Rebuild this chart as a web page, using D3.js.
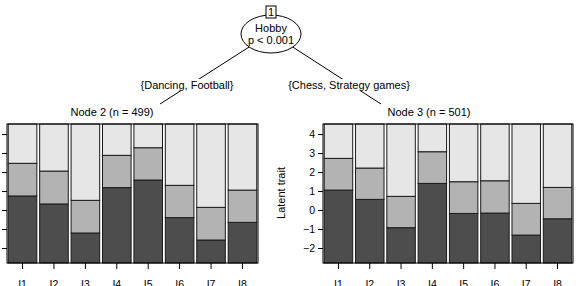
<!DOCTYPE html>
<html>
<head>
<meta charset="utf-8">
<script src="https://cdn.jsdelivr.net/npm/d3@7"></script>
<style>
  body { margin: 0; background: #fff; }
  svg { font-family: "Liberation Sans", Arial, sans-serif; }
</style>
</head>
<body>
<script>
// data
var items = ["I1", "I2", "I3", "I4", "I5", "I6", "I7", "I8"];
var yTicks = [-2, -1, 0, 1, 2, 3, 4];
// upper bound of the dark (lowest) category and of the middle category, per item
var node2Low = [0.74, 0.32, -1.21, 1.18, 1.58, -0.40, -1.58, -0.65];
var node2Mid = [2.46, 2.05, 0.51, 2.88, 3.28, 1.30, 0.14, 1.05];
var node3Low = [1.05, 0.56, -0.93, 1.40, -0.18, -0.16, -1.32, -0.46];
var node3Mid = [2.72, 2.21, 0.72, 3.07, 1.49, 1.54, 0.35, 1.19];
var nodes = [
    { id: 2, n: 499, low: node2Low, mid: node2Mid },
    { id: 3, n: 501, low: node3Low, mid: node3Mid },
];
var edgeLabels = ["{Dancing, Football}", "{Chess, Strategy games}"];

var W = 579, H = 286;
var svg = d3.select("body").append("svg").attr("width", W).attr("height", H);

var yMin = -2.79, yMax = 4.53;
var y = d3.scaleLinear().domain([yMin, yMax]).range([263, 124]);
var panels = [[7, 258], [323, 573]];
var labelX = [112, 429];
var colors = ["#4d4d4d", "#b3b3b3", "#e6e6e6"];

// tree edges
var root = [271, 33];
var kids = [[160, 104], [381, 104]];
svg.selectAll("line.edge")
    .data(kids)
    .join("line")
    .attr("x1", root[0])
    .attr("y1", root[1])
    .attr("x2", (d) => d[0])
    .attr("y2", (d) => d[1])
    .attr("stroke", "#000")
    .attr("stroke-width", 1);

// edge labels with white background
var elx = [187, 349];
edgeLabels.forEach(function (t, i) {
    var txt = svg.append("text")
        .attr("x", elx[i])
        .attr("y", 89)
        .attr("text-anchor", "middle")
        .attr("font-size", 11)
        .text(t);
    var bb = txt.node().getBBox();
    svg.insert("rect", "text")
        .attr("x", bb.x - 2)
        .attr("y", bb.y)
        .attr("width", bb.width + 4)
        .attr("height", bb.height)
        .attr("fill", "#fff");
});

// inner node
svg.append("ellipse")
    .attr("cx", root[0])
    .attr("cy", 34)
    .attr("rx", 30)
    .attr("ry", 19)
    .attr("fill", "#fff")
    .attr("stroke", "#000");
svg.append("rect")
    .attr("x", 266)
    .attr("y", 6)
    .attr("width", 10)
    .attr("height", 12)
    .attr("fill", "#fff")
    .attr("stroke", "#000");
svg.append("text").attr("x", 271).attr("y", 16).attr("text-anchor", "middle")
    .attr("font-size", 11).text("1");
svg.append("text").attr("x", 271).attr("y", 32).attr("text-anchor", "middle")
    .attr("font-size", 11).text("Hobby");
svg.append("text").attr("x", 271).attr("y", 44).attr("text-anchor", "middle")
    .attr("font-size", 11).text("p < 0.001");

// terminal panels
nodes.forEach(function (nd, k) {
    var x0 = panels[k][0], x1 = panels[k][1];
    var x = d3.scaleBand().domain(items).range([x0, x1])
        .paddingInner(0.09).paddingOuter(0.04);
    var g = svg.append("g");

    g.append("text")
        .attr("x", labelX[k])
        .attr("y", 116)
        .attr("text-anchor", "middle")
        .attr("font-size", 11)
        .text("Node " + nd.id + " (n = " + nd.n + ")");

    var segs = [];
    items.forEach(function (it, i) {
        segs.push({ it: it, a: yMin, b: nd.low[i], c: 0 });
        segs.push({ it: it, a: nd.low[i], b: nd.mid[i], c: 1 });
        segs.push({ it: it, a: nd.mid[i], b: yMax, c: 2 });
    });
    g.selectAll("rect.seg")
        .data(segs)
        .join("rect")
        .attr("x", (d) => x(d.it))
        .attr("width", x.bandwidth())
        .attr("y", (d) => y(d.b))
        .attr("height", (d) => y(d.a) - y(d.b))
        .attr("fill", (d) => colors[d.c])
        .attr("stroke", "#1a1a1a")
        .attr("stroke-width", 1);

    g.append("rect")
        .attr("x", x0)
        .attr("y", y(yMax))
        .attr("width", x1 - x0)
        .attr("height", y(yMin) - y(yMax))
        .attr("fill", "none")
        .attr("stroke", "#000");

    var ax = g.append("g")
        .attr("transform", "translate(" + x0 + ",0)")
        .call(d3.axisLeft(y).tickValues(yTicks).tickSize(5).tickPadding(3)
            .tickFormat((d) => (d < 0 ? "\u2212" + Math.abs(d) : d)));
    ax.select(".domain").remove();
    ax.selectAll("text").attr("font-size", 10.5).attr("font-family", null);

    var bx = g.append("g")
        .attr("transform", "translate(0," + y(yMin) + ")")
        .call(d3.axisBottom(x).tickSize(6).tickPadding(12));
    bx.select(".domain").remove();
    bx.selectAll("text").attr("font-size", 10.5).attr("font-family", null);
});

svg.append("text")
    .attr("transform", "translate(285,193) rotate(-90)")
    .attr("text-anchor", "middle")
    .attr("font-size", 11)
    .text("Latent trait");
</script>
</body>
</html>
